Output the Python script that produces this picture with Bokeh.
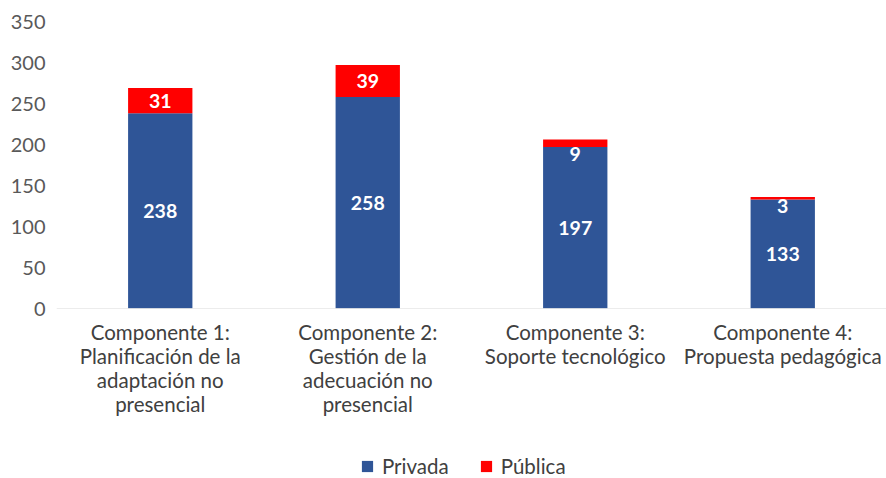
from bokeh.plotting import figure
from bokeh.models import Range1d, FactorRange, Legend, LegendItem, ColumnDataSource, Span
from bokeh.layouts import column
from bokeh.core.properties import value
from bokeh.embed import file_html
from bokeh.resources import INLINE

factors = ["C1", "C2", "C3", "C4"]
category_labels = [
    ["Componente 1:", "Planificación de la", "adaptación no", "presencial"],
    ["Componente 2:", "Gestión de la", "adecuación no", "presencial"],
    ["Componente 3:", "Soporte tecnológico"],
    ["Componente 4:", "Propuesta pedagógica"],
]
privada = [238, 258, 197, 133]
publica = [31, 39, 9, 3]
series_names = ["Privada", "Pública"]
y_ticks = [0, 50, 100, 150, 200, 250, 300, 350]

FONT = "Lato"
BLUE = "#2F5597"
RED = "#FF0000"
LABEL_SIZE = "19.5px"

p = figure(width=886, height=320, x_range=FactorRange(*factors), y_range=Range1d(0, 350),
           output_backend="svg", toolbar_location=None,
           min_border_left=56, min_border_right=0, min_border_top=21, min_border_bottom=12)
p.outline_line_color = None
p.xgrid.visible = False
p.ygrid.visible = False
p.xaxis.visible = False

src = ColumnDataSource(dict(x=factors, Privada=privada, Pública=publica))
rs = p.vbar_stack(series_names, x="x", width=0.31, source=src, color=[BLUE, RED], line_color=None)
p.add_layout(Span(location=0, dimension="width", line_color="#D9D9D9", line_width=1))

# data labels
p.text(x=factors, y=[v / 2 for v in privada], text=[str(v) for v in privada], text_color="white",
       text_font=value(FONT), text_font_style="bold", text_font_size=LABEL_SIZE,
       text_align="center", text_baseline="middle")
big = [(f, a + b / 2, str(b)) for f, a, b in zip(factors, privada, publica) if b >= 20]
small = [(f, a, str(b)) for f, a, b in zip(factors, privada, publica) if b < 20]
p.text(x=[t[0] for t in big], y=[t[1] for t in big], text=[t[2] for t in big], text_color="white",
       text_font=value(FONT), text_font_style="bold", text_font_size=LABEL_SIZE,
       text_align="center", text_baseline="middle")
p.text(x=[t[0] for t in small], y=[t[1] for t in small], text=[t[2] for t in small], text_color="white",
       text_font=value(FONT), text_font_style="bold", text_font_size=LABEL_SIZE,
       text_align="center", text_baseline="top", y_offset=0)

# y axis
p.yaxis.ticker = y_ticks
p.yaxis.axis_line_color = None
p.yaxis.major_tick_line_color = None
p.yaxis.minor_tick_line_color = None
p.yaxis.major_label_text_font = FONT
p.yaxis.major_label_text_font_size = "20px"
p.yaxis.major_label_text_color = "#595959"
p.yaxis.major_label_standoff = 5

# bottom panel: category labels + legend (pixel-like y units from top)
p2 = figure(width=886, height=158, x_range=p.x_range, y_range=Range1d(-158, 0),
            output_backend="svg", toolbar_location=None,
            min_border_left=56, min_border_right=0, min_border_top=0, min_border_bottom=0)
p2.outline_line_color = None
p2.axis.visible = False
p2.grid.visible = False

LINE_STEP = 24
FIRST_LINE = -11
xs, ys, ts = [], [], []
for f, lines in zip(factors, category_labels):
    for i, t in enumerate(lines):
        xs.append(f)
        ys.append(FIRST_LINE - i * LINE_STEP)
        ts.append(t)
p2.text(x=xs, y=ys, text=ts, text_color="#404040", text_font=value(FONT),
        text_font_size="20.5px", text_align="center", text_baseline="middle")

# zero-size proxies so the legend in this panel has swatches
proxies = [p2.vbar(x=factors[:1], top=[0], bottom=[0], width=0, fill_color=c, line_color=None)
           for c in (BLUE, RED)]
legend = Legend(items=[LegendItem(label=series_names[0], renderers=[proxies[0]]),
                       LegendItem(label=series_names[1], renderers=[proxies[1]])],
                orientation="horizontal", location=(304, 0),
                glyph_width=14, glyph_height=14, label_height=16, label_standoff=8, spacing=30,
                padding=0, margin=0, border_line_color=None, background_fill_alpha=0,
                label_text_font=FONT, label_text_font_size="20.5px", label_text_color="#404040")
p2.add_layout(legend, "center")

layout = column(p, p2, spacing=0)
open("out.html", "w").write(file_html(layout, INLINE))
